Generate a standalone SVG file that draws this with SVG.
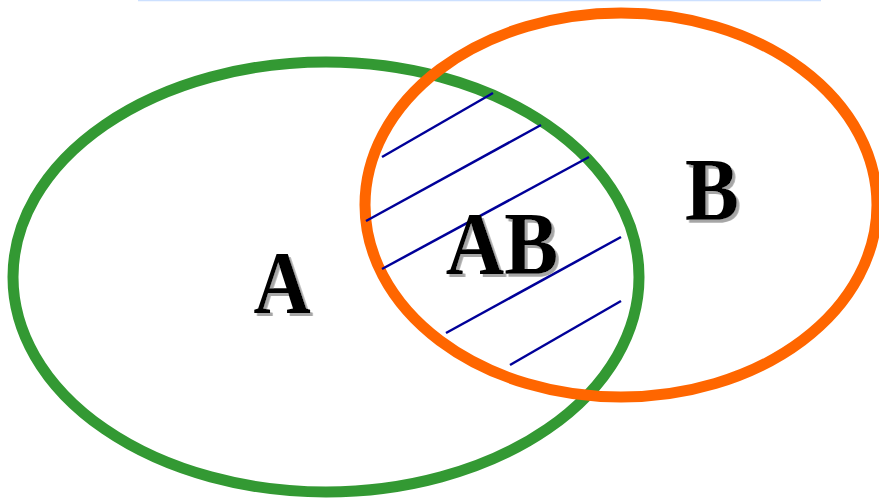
<svg xmlns="http://www.w3.org/2000/svg" width="879" height="498" viewBox="0 0 879 498">
<defs>
<filter id="shadow" x="-20%" y="-20%" width="150%" height="150%">
<feDropShadow dx="3" dy="3" stdDeviation="0.4" flood-color="#a6a6a6" flood-opacity="1"/>
</filter>
</defs>
<style>
.lbl{font-family:"Liberation Serif","Times New Roman",serif;font-weight:bold;font-size:88px;fill:#000;filter:url(#shadow)}
.hatch line{stroke:#000099;stroke-width:2.5}
</style>
<rect width="879" height="498" fill="#fff"/>
<line x1="138" y1="0.5" x2="821" y2="0.5" stroke="#cce0ff" stroke-width="1.5"/>
<g id="setA">
<ellipse cx="326" cy="277" rx="313" ry="215" fill="none" stroke="#339933" stroke-width="11"/>
</g>
<g id="setB">
<ellipse cx="621" cy="205" rx="256" ry="192" fill="none" stroke="#ff6600" stroke-width="11"/>
</g>
<g id="hatch" class="hatch">
<line x1="382" y1="157" x2="493" y2="93"/>
<line x1="366" y1="221" x2="541" y2="125"/>
<line x1="382" y1="269" x2="589" y2="157"/>
<line x1="446" y1="333" x2="621" y2="237"/>
<line x1="510" y1="365" x2="621" y2="301"/>
</g>
<g id="labelA">
<text class="lbl" x="282" y="312" text-anchor="middle" transform="translate(282 0) scale(0.9 1) translate(-282 0)">A</text>
</g>
<g id="labelB">
<text class="lbl" x="712" y="219" text-anchor="middle" transform="translate(712 0) scale(0.92 1) translate(-712 0)">B</text>
</g>
<g id="labelAB">
<text class="lbl" x="502" y="273" text-anchor="middle" font-size="94" transform="translate(502 0) scale(0.92 1) translate(-502 0)">AB</text>
</g>
</svg>
